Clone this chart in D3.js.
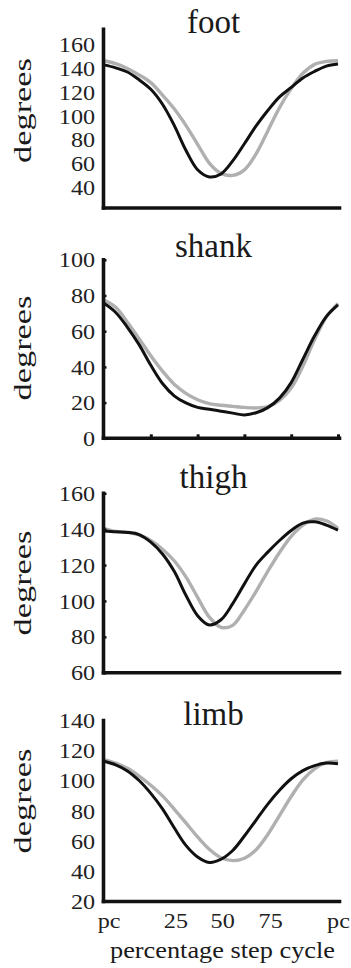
<!DOCTYPE html>
<html><head><meta charset="utf-8">
<script src="https://cdn.jsdelivr.net/npm/d3@7"></script>
<style>body{margin:0;background:#fff}svg{display:block}svg text{font-family:"Liberation Serif","Times New Roman",serif}</style>
</head><body>
<script>
// ---- data (percentage of step cycle, degrees) ----
const stepPct = [0,5,10,15,20,25,30,35,40,45,50,55,60,65,70,75,80,85,90,95,100];

const footBlack  = [143,140.5,137,130.4,122.4,109.8,92,71,54.5,48.5,51,62,76.5,91.5,104.5,116,124,132,137.5,142,143.7];
const footGray   = [146.5,144,140,134.5,128,117.5,106,92,76,60.2,51.5,49.8,54.5,68,87.3,107,123,136,143.4,146,146.5];

const shankBlack = [75.6,70.5,62.2,52.5,40.9,30.7,23.8,19.8,17.3,16.3,15.2,14.1,13.1,14.3,17.2,22.5,31.2,44.3,57.4,68.2,74.7];
const shankGray  = [77.5,73.4,65,55.8,46.2,37.6,30.3,25.2,21.6,19.4,18.5,17.9,17.3,17,17.7,21.2,28.2,40.5,55.3,67.9,75.6];

const thighBlack = [139,138.5,138.2,137,132.8,126.2,116.5,103.2,91.8,86.6,89.5,98.5,109.5,120,127.2,133.7,139.3,143.4,144.1,142.3,139.5];
const thighGray  = [140.5,138.7,138.3,136.8,133.7,128.8,122.4,113.4,102,91,85.3,86.4,95,105.3,116.5,127,136,142.3,145.6,144.7,140.5];

const limbBlack  = [113,110.6,106.6,100.2,91.7,81.4,68.9,57.2,49.5,45.9,48,53.8,63.4,74,84.6,93.8,101.4,106.8,110.1,111.8,111.4];
const limbGray   = [114.1,111.7,108.3,103.2,97.1,90,81.3,72.1,62.8,54.6,49,47.1,48.7,54.3,64.4,77,89.6,100.7,108,112,113];

const footTicks  = [40,60,80,100,120,140,160];
const shankTicks = [0,20,40,60,80,100];
const thighTicks = [60,80,100,120,140,160];
const limbTicks  = [20,40,60,80,100,120,140];

const footDomain  = [22.3,173];
const shankDomain = [0,100];
const thighDomain = [60,160];
const limbDomain  = [20,140];

const xLabels  = ["pc","25","50","75","pc"];
const xLabelAt = [2,30.5,50.5,71,100];   // where the labels sit along the cycle axis
const shankXTicks = [20,40,60,80,100];

const titles = ["foot","shank","thigh","limb"];
const yTitle = "degrees";
const xTitle = "percentage step cycle";

// ---- layout ----
const W = 351, H = 968;
const FONT = "Liberation Serif, Times New Roman, serif";
const axisX = 103.5, xRight = 339.5;

const panels = [
  {title:titles[0], black:footBlack,  gray:footGray,  ticks:footTicks,  domain:footDomain,  top:29.3,  bottom:208,   titleY:33,    labelY:110.5, yMarks:false, xMarks:null},
  {title:titles[1], black:shankBlack, gray:shankGray, ticks:shankTicks, domain:shankDomain, top:259.8, bottom:438.3, titleY:256.7, labelY:348,   yMarks:true,  xMarks:shankXTicks},
  {title:titles[2], black:thighBlack, gray:thighGray, ticks:thighTicks, domain:thighDomain, top:493.3, bottom:672.7, titleY:488,   labelY:583,   yMarks:true,  xMarks:null},
  {title:titles[3], black:limbBlack,  gray:limbGray,  ticks:limbTicks,  domain:limbDomain,  top:720.5, bottom:901.5, titleY:725,   labelY:801,   yMarks:false, xMarks:null, xLabels:true}
];

const svg = d3.select("body").append("svg").attr("width", W).attr("height", H)
  .attr("font-family", FONT);

const x = d3.scaleLinear().domain([0,100]).range([104, 338]);

panels.forEach(p => {
  const y = d3.scaleLinear().domain(p.domain).range([p.bottom, p.top]);
  const g = svg.append("g");

  // title
  g.append("text").attr("x", 213.5).attr("y", p.titleY)
    .attr("text-anchor","middle").attr("font-size", 33).attr("fill","#1a1a1a")
    .attr("font-family", FONT)
    .text(p.title);

  // y label
  g.append("text")
    .attr("transform", `translate(31,${p.labelY}) rotate(-90)`)
    .attr("text-anchor","middle").attr("font-size", 26).attr("fill","#1a1a1a")
    .attr("font-family", FONT)
    .attr("textLength", 105).attr("lengthAdjust","spacingAndGlyphs")
    .text(yTitle);

  // curves
  const line = d3.line().x((d,i) => x(stepPct[i])).y(d => y(d)).curve(d3.curveCatmullRom.alpha(0.5));
  g.append("path").datum(p.gray).attr("d", line)
    .attr("fill","none").attr("stroke","#b0b0b0").attr("stroke-width",3.4).attr("stroke-linejoin","round");
  g.append("path").datum(p.black).attr("d", line)
    .attr("fill","none").attr("stroke","#111").attr("stroke-width",3).attr("stroke-linejoin","round");

  // y axis
  const yAxis = d3.axisLeft(y).tickValues(p.ticks).tickSizeOuter(0)
    .tickSizeInner(p.yMarks ? -3 : 0).tickFormat(d3.format("d"));
  const ya = g.append("g").attr("transform", `translate(${axisX},0)`).call(yAxis)
    .attr("font-family", FONT);
  ya.select(".domain").remove();
  ya.selectAll(".tick line").attr("stroke","#111").attr("stroke-width",2.5);
  ya.selectAll(".tick text")
    .attr("x", -8.5/1.15).attr("dy","0.34em")
    .attr("transform","scale(1.15,1)")
    .attr("font-size", 21).attr("font-family", FONT).attr("fill","#222");
  g.append("line").attr("x1",axisX).attr("x2",axisX)
    .attr("y1", p.top).attr("y2", p.bottom)
    .attr("stroke","#111").attr("stroke-width",3.6).attr("stroke-linecap","square");

  // x axis
  g.append("line").attr("x1",axisX).attr("x2",xRight)
    .attr("y1", p.bottom).attr("y2", p.bottom)
    .attr("stroke","#111").attr("stroke-width",3.6).attr("stroke-linecap","square");

  if (p.xMarks) {
    const xa = g.append("g").attr("transform", `translate(0,${p.bottom})`)
      .call(d3.axisBottom(x).tickValues(p.xMarks).tickSizeOuter(0).tickSizeInner(-4).tickFormat(""));
    xa.select(".domain").remove();
    xa.selectAll(".tick line").attr("stroke","#111").attr("stroke-width",3);
  }
  if (p.xLabels) {
    const xa = g.append("g").attr("transform", `translate(0,${p.bottom})`)
      .call(d3.axisBottom(x).tickValues(xLabelAt).tickSize(0).tickFormat((d,i) => xLabels[i]))
      .attr("font-family", FONT);
    xa.select(".domain").remove();
    xa.selectAll(".tick text").attr("y", 26.5).attr("dy", 0)
      .attr("transform","scale(1.15,1)")
      .attr("font-size", 21).attr("font-family", FONT).attr("fill","#222");
    g.append("text").attr("x", 222.5).attr("y", 958)
      .attr("text-anchor","middle").attr("font-size", 24).attr("fill","#1a1a1a")
      .attr("font-family", FONT)
      .attr("textLength", 225).attr("lengthAdjust","spacingAndGlyphs")
      .text(xTitle);
  }
});
</script>
</body></html>
